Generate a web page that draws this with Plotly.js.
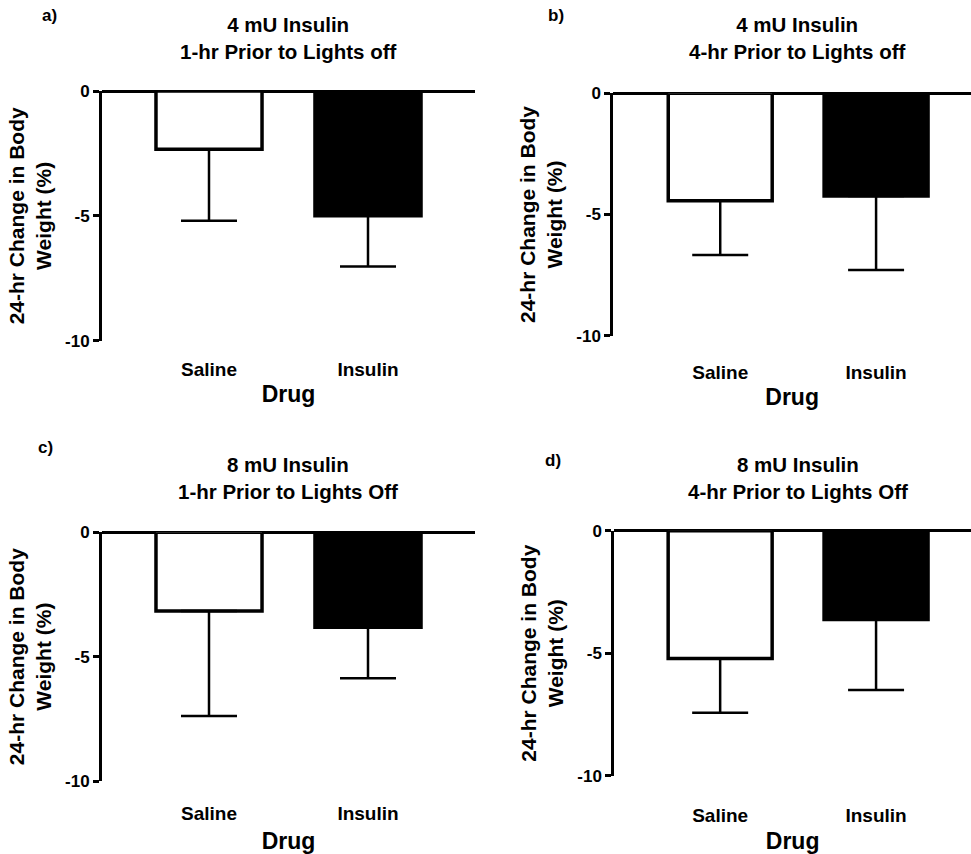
<!DOCTYPE html>
<html>
<head>
<meta charset="utf-8">
<script src="https://cdn.plot.ly/plotly-3.0.1.min.js"></script>
<style>html,body{margin:0;padding:0;background:#fff;}#chart{width:971px;height:854px;}</style>
</head>
<body>
<div id="chart"></div>
<script>
// ---- data ----
const categories = ['Saline', 'Insulin'];
const tickValsY = [0, -5, -10];
const tickTextY = ['0', '-5', '-10'];

const meansA = [-2.33, -5.00];
const errsA  = [2.87, 2.03];
const meansB = [-4.43, -4.24];
const errsB  = [2.24, 3.05];
const meansC = [-3.16, -3.82];
const errsC  = [4.23, 2.05];
const meansD = [-5.22, -3.62];
const errsD  = [2.21, 2.88];

const panelLetters = ['a)', 'b)', 'c)', 'd)'];
const panelTitles = [
  '4 mU Insulin<br>1-hr Prior to Lights off',
  '4 mU Insulin<br>4-hr Prior to Lights off',
  '8 mU Insulin<br>1-hr Prior to Lights Off',
  '8 mU Insulin<br>4-hr Prior to Lights Off'
];
const yTitle = '24-hr Change in Body<br>Weight (%)';
const xTitle = 'Drug';

// ---- layout helpers ----
const FONT = 'Liberation Sans, Arial, Helvetica, sans-serif';
const W = 971, H = 854;

const panels = [
  {means: meansA, errs: errsA, xdom: [102/W, 475/W], ydom: [1-340.7/H, 1-91/H],   xr: [-0.673, 1.673], lblOff: 15, ttlOff: 7},
  {means: meansB, errs: errsB, xdom: [613.3/W, 1],   ydom: [1-335.7/H, 1-93.3/H], xr: [-0.686, 1.609], lblOff: 23, ttlOff: 7},
  {means: meansC, errs: errsC, xdom: [102/W, 475/W], ydom: [1-781/H, 1-532.3/H],  xr: [-0.673, 1.673], lblOff: 19, ttlOff: 9},
  {means: meansD, errs: errsD, xdom: [614.3/W, 1],   ydom: [1-775.7/H, 1-530.7/H], xr: [-0.679, 1.609], lblOff: 26, ttlOff: 9}
];
const titlePos = [[288/W, 1-38.5/H], [797.5/W, 1-38.5/H], [288/W, 1-477.5/H], [797.5/W, 1-477.5/H]];
const letterPos = [[49/W, 1-15/H], [556/W, 1-15/H], [45/W, 1-447/H], [553/W, 1-460/H]];

const traces = [];
const layout = {
  width: W, height: H,
  margin: {l: 0, r: 0, t: 0, b: 0},
  paper_bgcolor: 'white', plot_bgcolor: 'white',
  showlegend: false,
  font: {family: FONT, color: 'black', weight: 'bold'},
  annotations: []
};

panels.forEach((p, i) => {
  const n = i + 1;
  const xa = n === 1 ? 'x' : 'x' + n;
  const ya = n === 1 ? 'y' : 'y' + n;
  traces.push({
    type: 'bar',
    x: categories,
    y: p.means,
    xaxis: xa, yaxis: ya,
    width: 0.667,
    marker: {color: ['white', 'black'], line: {color: 'black', width: 3.5}},
    error_y: {type: 'data', symmetric: false, array: [0, 0], arrayminus: p.errs,
              color: 'black', thickness: 2.5, width: 28},
    hoverinfo: 'x+y'
  });
  layout['xaxis' + (n === 1 ? '' : n)] = {
    domain: p.xdom, anchor: ya, type: 'category', range: p.xr,
    showline: false, ticks: '', showgrid: false, zeroline: false,
    ticklabelstandoff: p.lblOff,
    tickfont: {family: FONT, size: 19, color: 'black', weight: 'bold'},
    title: {text: xTitle, font: {family: FONT, size: 23, color: 'black', weight: 'bold'}, standoff: p.ttlOff}
  };
  layout['yaxis' + (n === 1 ? '' : n)] = {
    domain: p.ydom, anchor: xa, range: [-10, 0],
    tickvals: tickValsY, ticktext: tickTextY,
    showline: true, linewidth: 3, linecolor: 'black',
    ticks: 'outside', ticklen: 6, tickwidth: 3, tickcolor: 'black',
    showgrid: false,
    zeroline: true, zerolinewidth: 3, zerolinecolor: 'black',
    tickfont: {family: FONT, size: 17, color: 'black', weight: 'bold'},
    title: {text: yTitle, font: {family: FONT, size: 21, color: 'black', weight: 'bold'}, standoff: 8}
  };
  layout.annotations.push({
    text: panelTitles[i], xref: 'paper', yref: 'paper',
    x: titlePos[i][0], y: titlePos[i][1], xanchor: 'center', yanchor: 'middle',
    showarrow: false, align: 'center',
    font: {family: FONT, size: 20.5, color: 'black', weight: 'bold'}
  });
  layout.annotations.push({
    text: panelLetters[i], xref: 'paper', yref: 'paper',
    x: letterPos[i][0], y: letterPos[i][1], xanchor: 'center', yanchor: 'middle',
    showarrow: false,
    font: {family: FONT, size: 17, color: 'black', weight: 'bold'}
  });
});

Plotly.newPlot('chart', traces, layout, {staticPlot: true});
</script>
</body>
</html>
